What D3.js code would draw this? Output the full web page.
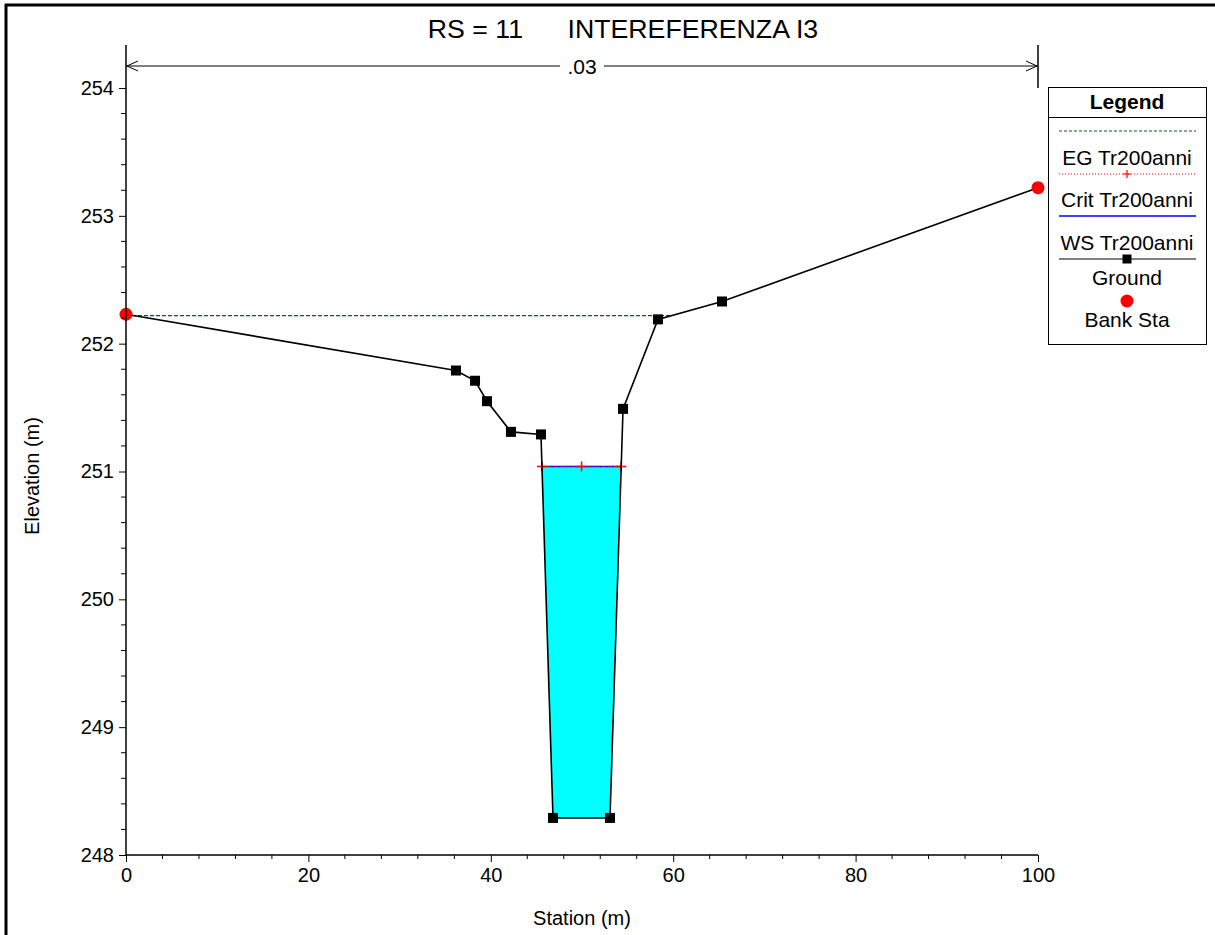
<!DOCTYPE html>
<html><head><meta charset="utf-8">
<script src="https://cdn.jsdelivr.net/npm/d3@7"></script>
<style>body{margin:0;background:#fff;} svg{display:block;font-family:"Liberation Sans",Arial,sans-serif;}</style>
</head><body>
<svg id="c" width="1215" height="935"></svg>
<script>
const groundStation = [0, 36.18, 38.27, 39.58, 42.21, 45.50, 46.82, 53.07, 54.50, 58.33, 65.35, 100];
const groundElev    = [252.23, 251.79, 251.71, 251.55, 251.31, 251.29, 248.29, 248.29, 251.49, 252.19, 252.33, 253.22];
const bankStation = [0, 100];
const bankElev = [252.23, 253.22];
const wsElev = 251.04;      // WS Tr200anni
const critElev = 251.04;    // Crit Tr200anni
const egElev = 252.22;      // EG Tr200anni
const nValues = [".03"];
const nBounds = [0, 100];
const xTicks = [0, 20, 40, 60, 80, 100];
const yTicks = [248, 249, 250, 251, 252, 253, 254];
const legendLabels = ["EG Tr200anni", "Crit Tr200anni", "WS Tr200anni", "Ground", "Bank Sta"];

const FF = "Liberation Sans, Arial, sans-serif";
const svg = d3.select("#c");
const x = d3.scaleLinear().domain([0, 100]).range([126, 1038]);
const y = d3.scaleLinear().domain([248, 254]).range([855, 88]);

// frame
svg.append("line").attr("x1",6).attr("x2",6).attr("y1",4).attr("y2",935).attr("stroke","#000").attr("stroke-width",3);
svg.append("line").attr("x1",5).attr("x2",1215).attr("y1",5).attr("y2",5).attr("stroke","#000").attr("stroke-width",3);

// title
svg.append("text").attr("x",623).attr("y",38).attr("text-anchor","middle").attr("font-size",26.7)
  .style("white-space","pre").text("RS = 11      INTEREFERENZA I3");

const ground = groundStation.map((s,i)=>({s, e: groundElev[i]}));

function crossings(level){
  const out=[];
  for(let i=0;i<ground.length-1;i++){
    const a=ground[i], b=ground[i+1];
    if((a.e-level)*(b.e-level)<0){
      const t=(level-a.e)/(b.e-a.e);
      out.push(a.s+t*(b.s-a.s));
    }
  }
  return out;
}
const wc = crossings(wsElev);
const wl = wc[0], wr = wc[wc.length-1];
const poly = [{s:wl,e:wsElev}];
ground.forEach(p=>{ if(p.s>wl && p.s<wr) poly.push(p); });
poly.push({s:wr,e:wsElev});
svg.append("path").attr("d", d3.line().x(d=>x(d.s)).y(d=>y(d.e))(poly)+"Z")
  .attr("fill","#00ffff").attr("stroke","none");

// EG line
const ec = crossings(egElev);
const egEnd = ec.find(v=>v>50);
svg.append("line").attr("x1",x(0)).attr("x2",x(egEnd)).attr("y1",y(egElev)).attr("y2",y(egElev))
  .attr("stroke","#006600").attr("stroke-width",1.2).attr("stroke-dasharray","4,2");

// WS line
svg.append("line").attr("x1",x(wl)).attr("x2",x(wr)).attr("y1",y(wsElev)).attr("y2",y(wsElev))
  .attr("stroke","#0000ff").attr("stroke-width",1.5);
// Crit line
svg.append("line").attr("x1",x(wl)).attr("x2",x(wr)).attr("y1",y(critElev)).attr("y2",y(critElev))
  .attr("stroke","#ff0000").attr("stroke-width",1).attr("stroke-dasharray","1,2");
[wl, (wl+wr)/2, wr].forEach(s=>{
  svg.append("path").attr("d",`M${x(s)-5},${y(critElev)}h10M${x(s)},${y(critElev)-5}v10`)
    .attr("stroke","#ff0000").attr("stroke-width",1.5);
});

// ground line
svg.append("path").attr("d", d3.line().x(d=>x(d.s)).y(d=>y(d.e))(ground))
  .attr("fill","none").attr("stroke","#000").attr("stroke-width",1.6);
svg.selectAll(".gm").data(ground.filter(d=>d.s>0 && d.s<100)).enter().append("rect")
  .attr("x",d=>x(d.s)-5).attr("y",d=>y(d.e)-5).attr("width",10).attr("height",10).attr("fill","#000");
svg.selectAll(".bk").data(bankStation).enter().append("circle")
  .attr("cx",(d)=>x(d)).attr("cy",(d,i)=>y(bankElev[i])).attr("r",6.5).attr("fill","#ff0000");

// axes
const xAxis = d3.axisBottom(x).tickValues(xTicks).tickSize(7).tickPadding(6).tickFormat(d3.format("d"));
const gx = svg.append("g").attr("transform","translate(0,855)").call(xAxis);
gx.select(".domain").attr("d",`M${x(0)},0H${x(100)}`).attr("stroke-width",1.5);
gx.selectAll("text").attr("font-size",20).attr("font-family",FF).attr("fill","#000");
const xMinor = d3.range(0,101,4).filter(v=>v%20!==0);
gx.selectAll(".mn").data(xMinor).enter().append("line").attr("x1",d=>x(d)).attr("x2",d=>x(d)).attr("y1",0).attr("y2",4).attr("stroke","#000");

const yAxis = d3.axisLeft(y).tickValues(yTicks).tickSize(7).tickPadding(5).tickFormat(d3.format("d"));
const gy = svg.append("g").attr("transform","translate(126,0)").call(yAxis);
gy.select(".domain").attr("d",`M0,45V855`).attr("stroke-width",1.5);
gy.selectAll("text").attr("font-size",20).attr("font-family",FF).attr("fill","#000");
const yMinor = d3.range(248,254.01,0.2).filter(v=>Math.abs(v-Math.round(v))>0.01);
gy.selectAll(".mn").data(yMinor).enter().append("line").attr("x1",-5).attr("x2",0).attr("y1",d=>y(d)).attr("y2",d=>y(d)).attr("stroke","#000");

svg.append("text").attr("x",582).attr("y",925).attr("text-anchor","middle").attr("font-size",20).text("Station (m)");
svg.append("text").attr("transform","translate(39,476) rotate(-90)").attr("text-anchor","middle").attr("font-size",20).text("Elevation (m)");

// n-value bar
svg.append("line").attr("x1",x(nBounds[1])).attr("x2",x(nBounds[1])).attr("y1",45).attr("y2",88).attr("stroke","#000").attr("stroke-width",1.5);
const ay = 66;
svg.append("line").attr("x1",x(nBounds[0])).attr("x2",x(nBounds[1])).attr("y1",ay).attr("y2",ay).attr("stroke","#000");
svg.append("path").attr("d",`M${x(nBounds[0])+12},${ay-5}L${x(nBounds[0])+1},${ay}L${x(nBounds[0])+12},${ay+5}`).attr("fill","none").attr("stroke","#000");
svg.append("path").attr("d",`M${x(nBounds[1])-12},${ay-5}L${x(nBounds[1])-1},${ay}L${x(nBounds[1])-12},${ay+5}`).attr("fill","none").attr("stroke","#000");
const nx = (x(nBounds[0])+x(nBounds[1]))/2;
svg.append("rect").attr("x",nx-22).attr("y",ay-11).attr("width",44).attr("height",22).attr("fill","#fff");
svg.append("text").attr("x",nx).attr("y",ay+8).attr("text-anchor","middle").attr("font-size",21).text(nValues[0]);

// legend
const lg = svg.append("g");
lg.append("rect").attr("x",1048.5).attr("y",87.5).attr("width",158).attr("height",257).attr("fill","#fff").attr("stroke","#000");
lg.append("line").attr("x1",1048.5).attr("x2",1206.5).attr("y1",117.5).attr("y2",117.5).attr("stroke","#000");
lg.append("text").attr("x",1127).attr("y",109).attr("text-anchor","middle").attr("font-size",21).attr("font-weight","bold").text("Legend");
const lx1=1059, lx2=1196, lcx=1127;
lg.append("line").attr("x1",lx1).attr("x2",lx2).attr("y1",131).attr("y2",131).attr("stroke","#006600").attr("stroke-dasharray","3,2");
lg.append("line").attr("x1",lx1).attr("x2",lx2).attr("y1",174).attr("y2",174).attr("stroke","#ff0000").attr("stroke-dasharray","1,2");
lg.append("path").attr("d",`M${lcx-4},174h8M${lcx},170v8`).attr("stroke","#ff0000").attr("stroke-width",1.2);
lg.append("line").attr("x1",lx1).attr("x2",lx2).attr("y1",216).attr("y2",216).attr("stroke","#0000ff").attr("stroke-width",1.5);
lg.append("line").attr("x1",lx1).attr("x2",lx2).attr("y1",259).attr("y2",259).attr("stroke","#000").attr("stroke-width",1.2);
lg.append("rect").attr("x",lcx-4.5).attr("y",254.5).attr("width",9).attr("height",9).attr("fill","#000");
lg.append("circle").attr("cx",lcx).attr("cy",301).attr("r",6.5).attr("fill","#ff0000");
const ly=[165,207,250,285,327];
legendLabels.forEach((t,i)=>lg.append("text").attr("x",lcx).attr("y",ly[i]).attr("text-anchor","middle").attr("font-size",21).text(t));
</script>
</body></html>
